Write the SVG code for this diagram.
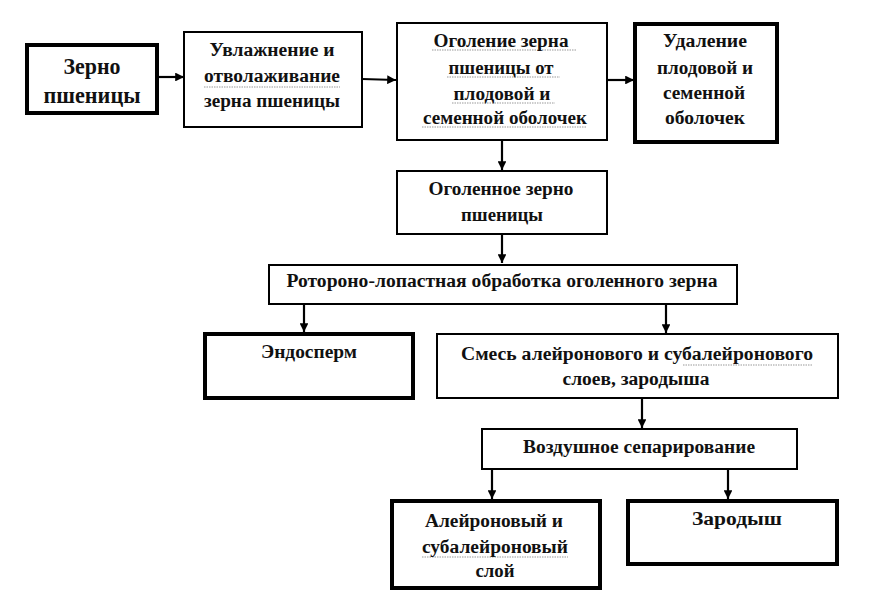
<svg xmlns="http://www.w3.org/2000/svg" width="869" height="600" viewBox="0 0 869 600">
<defs>
<style>
.thin{fill:#fff;stroke:#000;stroke-width:2}
.thick{fill:#fff;stroke:#000;stroke-width:4}
text{font-family:"Liberation Serif","DejaVu Serif","Times New Roman",serif;font-weight:bold;font-size:18px;fill:#111;text-anchor:middle}
.big{font-size:24px}
.edge{stroke:#000;stroke-width:2.2;fill:none;marker-end:url(#ah)}
.sq{stroke:#999;stroke-width:1;fill:none;stroke-dasharray:1.5 1}
</style>
<marker id="ah" viewBox="0 0 10 10" refX="10" refY="5" markerWidth="4" markerHeight="4" orient="auto" markerUnits="strokeWidth">
<path d="M0,0 L10,5 L0,10 z" fill="#000"/>
</marker>
</defs>
<rect width="869" height="600" fill="#fff"/>
<g id="connectors">
<line class="edge" x1="157" y1="77" x2="184" y2="77"/>
<line class="edge" x1="362" y1="79" x2="396" y2="80"/>
<line class="edge" x1="607" y1="80" x2="634" y2="80"/>
<line class="edge" x1="502" y1="141" x2="502" y2="170"/>
<line class="edge" x1="502" y1="234" x2="502" y2="263"/>
<line class="edge" x1="304" y1="304" x2="304" y2="332"/>
<line class="edge" x1="666" y1="304" x2="666" y2="333"/>
<line class="edge" x1="642" y1="398" x2="642" y2="428"/>
<line class="edge" x1="492" y1="470" x2="492" y2="499"/>
<line class="edge" x1="728" y1="470" x2="728" y2="499"/>
</g>
<g id="n1"><rect class="thick" x="27" y="45" width="130" height="68"/>
<text class="big" x="92" y="74" textLength="57" lengthAdjust="spacingAndGlyphs">Зерно</text><text class="big" x="92" y="103" textLength="97" lengthAdjust="spacingAndGlyphs">пшеницы</text></g>
<g id="n2"><rect class="thin" x="184" y="32" width="178" height="95"/>
<path class="sq" d="M204,87 h136"/>
<text x="272" y="56" textLength="125" lengthAdjust="spacingAndGlyphs">Увлажнение и</text><text x="272" y="82" textLength="136" lengthAdjust="spacingAndGlyphs">отволаживание</text><text x="272" y="107" textLength="136" lengthAdjust="spacingAndGlyphs">зерна пшеницы</text></g>
<g id="n3"><rect class="thin" x="397" y="23" width="210" height="117"/>
<path class="sq" d="M432,50 h145 M447,77 h113 M452,103 h103 M422,127 h165"/>
<text x="501" y="47" textLength="135" lengthAdjust="spacingAndGlyphs">Оголение зерна</text><text x="501" y="74" textLength="105" lengthAdjust="spacingAndGlyphs">пшеницы от</text><text x="502" y="100" textLength="97" lengthAdjust="spacingAndGlyphs">плодовой и</text><text x="505" y="124" textLength="164" lengthAdjust="spacingAndGlyphs">семенной оболочек</text></g>
<g id="n4"><rect class="thick" x="635" y="24" width="142" height="118"/>
<text x="705" y="47" textLength="84" lengthAdjust="spacingAndGlyphs">Удаление</text><text x="705" y="74" textLength="96" lengthAdjust="spacingAndGlyphs">плодовой и</text><text x="704" y="99" textLength="82" lengthAdjust="spacingAndGlyphs">семенной</text><text x="705" y="124" textLength="80" lengthAdjust="spacingAndGlyphs">оболочек</text></g>
<g id="n5"><rect class="thin" x="397" y="171" width="210" height="63"/>
<text x="501" y="195" textLength="145" lengthAdjust="spacingAndGlyphs">Оголенное зерно</text><text x="502" y="221" textLength="82" lengthAdjust="spacingAndGlyphs">пшеницы</text></g>
<g id="n6"><rect class="thin" x="269" y="265" width="468" height="39"/>
<text x="502" y="287" textLength="431" lengthAdjust="spacingAndGlyphs">Ротороно-лопастная обработка оголенного зерна</text></g>
<g id="n7"><rect class="thick" x="205" y="334" width="208" height="64"/>
<text x="309" y="358" textLength="96" lengthAdjust="spacingAndGlyphs">Эндосперм</text></g>
<g id="n8"><rect class="thin" x="437" y="334" width="401" height="64"/>
<path class="sq" d="M683,365 h130"/>
<text x="637" y="360" textLength="352" lengthAdjust="spacingAndGlyphs">Смесь алейронового и субалейронового</text><text x="636" y="385" textLength="147" lengthAdjust="spacingAndGlyphs">слоев, зародыша</text></g>
<g id="n9"><rect class="thin" x="482" y="429" width="315" height="40"/>
<text x="639" y="453" textLength="232" lengthAdjust="spacingAndGlyphs">Воздушное сепарирование</text></g>
<g id="n10"><rect class="thick" x="392" y="501" width="208" height="87"/>
<path class="sq" d="M422,557 h146"/>
<text x="494" y="527" textLength="138" lengthAdjust="spacingAndGlyphs">Алейроновый и</text><text x="495" y="553" textLength="146" lengthAdjust="spacingAndGlyphs">субалейроновый</text><text x="495" y="577" textLength="39" lengthAdjust="spacingAndGlyphs">слой</text></g>
<g id="n11"><rect class="thick" x="628" y="501" width="209" height="63"/>
<text x="737" y="525" textLength="90" lengthAdjust="spacingAndGlyphs">Зародыш</text></g>
</svg>
